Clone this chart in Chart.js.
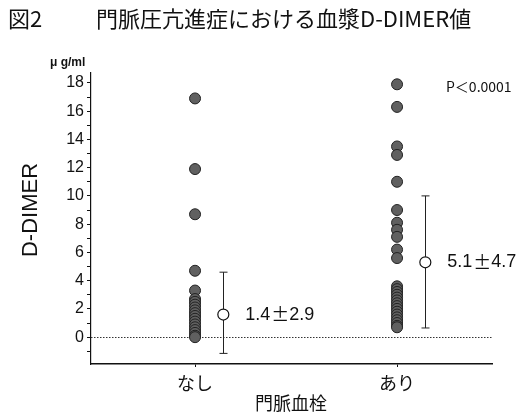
<!DOCTYPE html>
<html>
<head>
<meta charset="utf-8">
<script src="https://cdn.jsdelivr.net/npm/chart.js@4"></script>
<style>
  body { margin: 0; background: #fff; }
  #wrap { width: 529px; height: 416px; }
</style>
</head>
<body>
<div id="wrap"><canvas id="chart" width="529" height="416"></canvas></div>
<script>
// categories on the x axis
const categories = ['なし', 'あり'];

// individual D-DIMER values (μg/ml)
const noneValues = [16.9, 11.9, 8.7, 4.7, 3.3,
  2.7, 2.5, 2.3, 2.1, 1.9, 1.7, 1.5, 1.3, 1.1, 0.9, 0.7, 0.5, 0.3, 0.1, 0.0];
const presentValues = [17.9, 16.3, 13.5, 12.9, 11.0, 9.0, 8.1, 7.6, 7.1, 6.2, 5.6,
  3.6, 3.4, 3.2, 3.0, 2.8, 2.6, 2.4, 2.2, 2.0, 1.8, 1.6, 1.4, 1.2, 1.0, 0.8, 0.7];

// mean marker and error bar ends as drawn
const meanValues = [1.6, 5.3];
const errHigh = [4.6, 10.0];
const errLow = [-1.15, 0.65];
const meanLabels = ['1.4±2.9', '5.1±4.7'];

// y ticks
const yTicks = [-1, 0, 1, 2, 3, 4, 5, 6, 7, 8, 9, 10, 11, 12, 13, 14, 15, 16, 17, 18];

const MEAN_OFFSET = 0.14;
const CJK = '"Noto Sans CJK JP", "Liberation Sans", sans-serif';
const SANS = '"Liberation Sans", Arial, sans-serif';

// scatter data built from the arrays
const noneData = noneValues.map(v => ({ x: 1, y: v }));
const presentData = presentValues.map(v => ({ x: 2, y: v }));
const meanData = meanValues.map((v, i) => ({ x: i + 1 + MEAN_OFFSET, y: v }));

// Error bars, zero line and texts
const annotations = {
  id: 'annotations',
  beforeDatasetsDraw(chart) {
    const { ctx, chartArea } = chart;
    const xs = chart.scales.x;
    const ys = chart.scales.y;

    ctx.save();
    // dotted zero line
    const y0 = Math.round(ys.getPixelForValue(0)) + 0.5;
    ctx.strokeStyle = '#333';
    ctx.lineWidth = 1;
    ctx.setLineDash([1.5, 1.5]);
    ctx.beginPath();
    ctx.moveTo(chartArea.left, y0);
    ctx.lineTo(chartArea.right, y0);
    ctx.stroke();
    ctx.setLineDash([]);

    // error bars
    ctx.strokeStyle = '#222';
    meanValues.forEach((m, i) => {
      const x = Math.round(xs.getPixelForValue(i + 1 + MEAN_OFFSET)) + 0.5;
      const yTop = ys.getPixelForValue(errHigh[i]);
      const yBot = ys.getPixelForValue(errLow[i]);
      ctx.beginPath();
      ctx.moveTo(x, yTop);
      ctx.lineTo(x, yBot);
      ctx.moveTo(x - 4, yTop);
      ctx.lineTo(x + 4, yTop);
      ctx.moveTo(x - 4, yBot);
      ctx.lineTo(x + 4, yBot);
      ctx.stroke();
    });
    ctx.restore();
  },
  afterDraw(chart) {
    const { ctx } = chart;
    const xs = chart.scales.x;
    const ys = chart.scales.y;
    ctx.save();
    ctx.fillStyle = '#111';

    // title
    ctx.textBaseline = 'middle';
    ctx.textAlign = 'left';
    ctx.font = '22px ' + CJK;
    ctx.fillText('図2', 8, 19);
    ctx.fillText('門脈圧亢進症における血漿D-DIMER値', 96, 19);

    // unit
    ctx.font = 'bold 12px ' + SANS;
    ctx.fillText('μ g/ml', 50, 63);

    // p value
    ctx.font = '14px ' + CJK;
    ctx.fillText('P＜0.0001', 446, 87);

    // mean labels (full-width ± as in the original)
    ctx.font = '18px ' + SANS;
    meanValues.forEach((m, i) => {
      const x = xs.getPixelForValue(i + 1 + MEAN_OFFSET) + 22;
      const y = ys.getPixelForValue(m);
      const parts = meanLabels[i].split('±');
      let cx = x;
      ctx.font = '18px ' + SANS;
      ctx.fillText(parts[0], cx, y);
      cx += ctx.measureText(parts[0]).width + 1;
      ctx.font = '18px ' + CJK;
      ctx.fillText('±', cx, y);
      cx += 18;
      ctx.font = '18px ' + SANS;
      ctx.fillText(parts[1], cx, y);
    });

    // x axis title
    ctx.textAlign = 'center';
    ctx.font = '18px ' + CJK;
    ctx.fillText('門脈血栓', 291, 403);

    // y axis title
    ctx.translate(31, 210);
    ctx.rotate(-Math.PI / 2);
    ctx.font = '22px ' + SANS;
    ctx.fillText('D-DIMER', 0, 0);
    ctx.restore();
  }
};

new Chart(document.getElementById('chart'), {
  type: 'scatter',
  data: {
    datasets: [
      {
        label: 'なし',
        data: noneData,
        pointRadius: 5.5,
        backgroundColor: '#606060',
        borderColor: '#222',
        borderWidth: 1
      },
      {
        label: 'あり',
        data: presentData,
        pointRadius: 5.5,
        backgroundColor: '#606060',
        borderColor: '#222',
        borderWidth: 1
      },
      {
        label: 'mean',
        data: meanData,
        pointRadius: 5.5,
        backgroundColor: '#fff',
        borderColor: '#111',
        borderWidth: 1.2
      }
    ]
  },
  options: {
    responsive: false,
    animation: false,
    layout: { padding: { top: 73, right: 37, left: 0, bottom: 0 } },
    plugins: {
      legend: { display: false },
      tooltip: { enabled: false }
    },
    scales: {
      x: {
        type: 'linear',
        min: 0.485,
        max: 2.47,
        afterBuildTicks: scale => { scale.ticks = [1, 2].map(v => ({ value: v })); },
        afterFit: scale => { scale.height = 52; },
        grid: { drawOnChartArea: false, tickLength: 3, tickColor: '#111' },
        border: { color: '#111', width: 1.5 },
        ticks: {
          color: '#111',
          padding: 5,
          autoSkip: false,
          font: { size: 18, family: CJK },
          callback: v => categories[v - 1]
        }
      },
      y: {
        min: -1.9,
        max: 18.7,
        afterBuildTicks: scale => { scale.ticks = yTicks.map(v => ({ value: v })); },
        afterFit: scale => { scale.width = 91; },
        grid: { drawOnChartArea: false, tickLength: 4, tickColor: '#111' },
        border: { color: '#111', width: 1.2 },
        ticks: {
          color: '#111',
          padding: 3,
          autoSkip: false,
          font: { size: 16, family: '"Liberation Sans Narrow", ' + SANS },
          callback: v => (v >= 0 && v % 2 === 0) ? String(v) : ''
        }
      }
    }
  },
  plugins: [annotations]
});
</script>
</body>
</html>
